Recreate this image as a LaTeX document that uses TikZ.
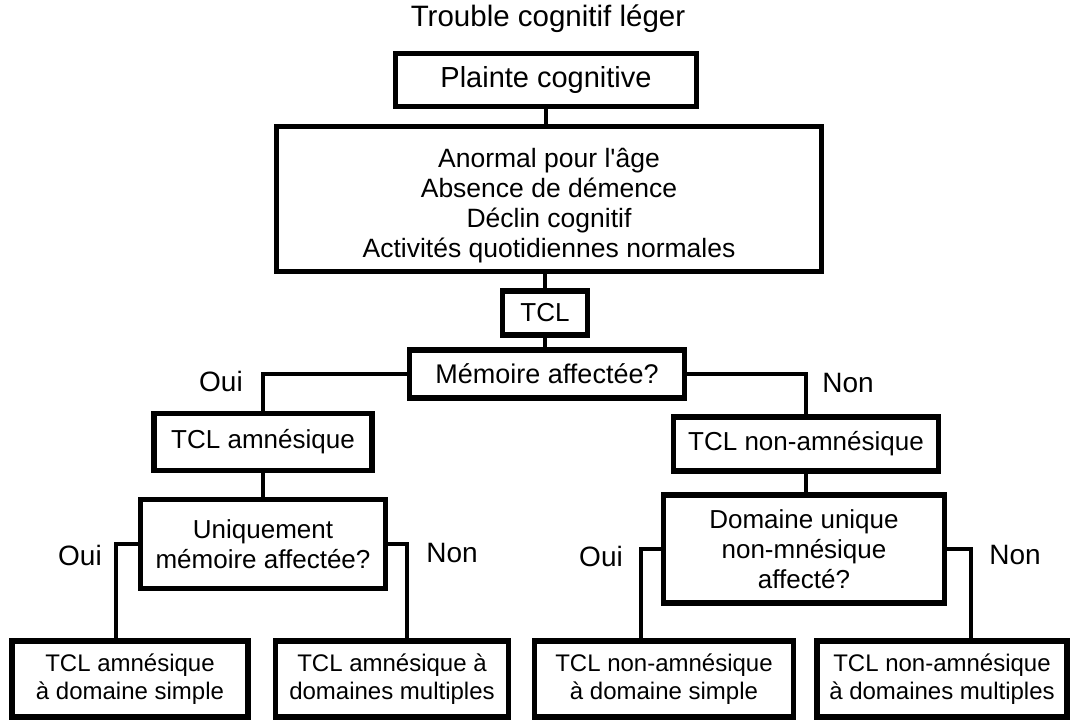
\documentclass[tikz,border=0pt]{standalone}
\usepackage{fontspec}
\setmainfont{Liberation Sans}

\begin{document}
\begin{tikzpicture}[x=1pt,y=-1pt,
boite/.style={draw,line width=5.5pt,fill=white,align=center,inner sep=0pt,font=\fontsize{26}{30}\selectfont},
bas/.style={minimum height=76pt,font=\fontsize{24}{28}\selectfont},
lien/.style={line width=4pt},
reponse/.style={font=\fontsize{28}{30}\selectfont}]
\useasboundingbox (0,0) rectangle (1072,721);
\node[font=\fontsize{29.5}{30}\selectfont] (titre) at (548,19) {Trouble cognitif léger};
\node[boite,minimum width=301pt,minimum height=53pt,font=\fontsize{29}{30}\selectfont] (plainte) at (546,80) {Plainte cognitive};
\node[boite,minimum width=545pt,minimum height=145pt,font=\fontsize{26.5}{30}\selectfont] (criteres) at (549,199) {\rule{0pt}{32pt}Anormal pour l\textquotesingle âge\\Absence de démence\\Déclin cognitif\\Activités quotidiennes normales};
\node[boite,minimum width=85pt,minimum height=44pt] (tcl) at (545,313) {TCL};
\node[boite,minimum width=275pt,minimum height=48pt,font=\fontsize{27}{30}\selectfont] (memoire) at (547,374) {Mémoire affectée?};
\node[boite,minimum width=218pt,minimum height=57pt] (amn) at (263,442) {TCL amnésique};
\node[boite,minimum width=265pt,minimum height=54pt] (namn) at (806,444) {TCL non-amnésique};
\node[boite,minimum width=245pt,minimum height=89pt] (uniq) at (263,544) {Uniquement\\mémoire affectée?};
\node[boite,minimum width=281pt,minimum height=108pt] (domaine) at (804,549) {Domaine unique\\non-mnésique\\affecté?};
% feuilles
\node[boite,bas,minimum width=236pt] (amnsimple) at (130,679) {TCL amnésique\\à domaine simple};
\node[boite,bas,minimum width=233pt] (amnmulti) at (392,679) {TCL amnésique à\\domaines multiples};
\node[boite,bas,minimum width=259pt] (namnsimple) at (664,679) {TCL non-amnésique\\à domaine simple};
\node[boite,bas,minimum width=250pt] (namnmulti) at (942,679) {TCL non-amnésique\\à domaines multiples};
% liens
\draw[lien] (plainte.south) -- (plainte.south |- criteres.north);
\draw[lien] (tcl.north |- criteres.south) -- (tcl.north);
\draw[lien] (tcl.south) -- (tcl.south |- memoire.north);
\draw[lien] (memoire.west) -| (amn.north);
\draw[lien] (memoire.east) -| (namn.north);
\draw[lien] (amn.south) -- (uniq.north);
\draw[lien] (namn.south) -- (namn.south |- domaine.north);
\draw[lien] (uniq.west) -| ([xshift=-14pt]amnsimple.north);
\draw[lien] (uniq.east) -| ([xshift=15pt]amnmulti.north);
\draw[lien] (domaine.west) -| ([xshift=-23pt]namnsimple.north);
\draw[lien] (domaine.east) -| ([xshift=29pt]namnmulti.north);
\node[reponse] (oui1) at (221,381) {Oui};
\node[reponse] (non1) at (848,383) {Non};
\node[reponse] (oui2) at (80,555) {Oui};
\node[reponse] (non2) at (452,553) {Non};
\node[reponse] (oui3) at (601,556) {Oui};
\node[reponse] (non3) at (1015,555) {Non};
\end{tikzpicture}
\end{document}
